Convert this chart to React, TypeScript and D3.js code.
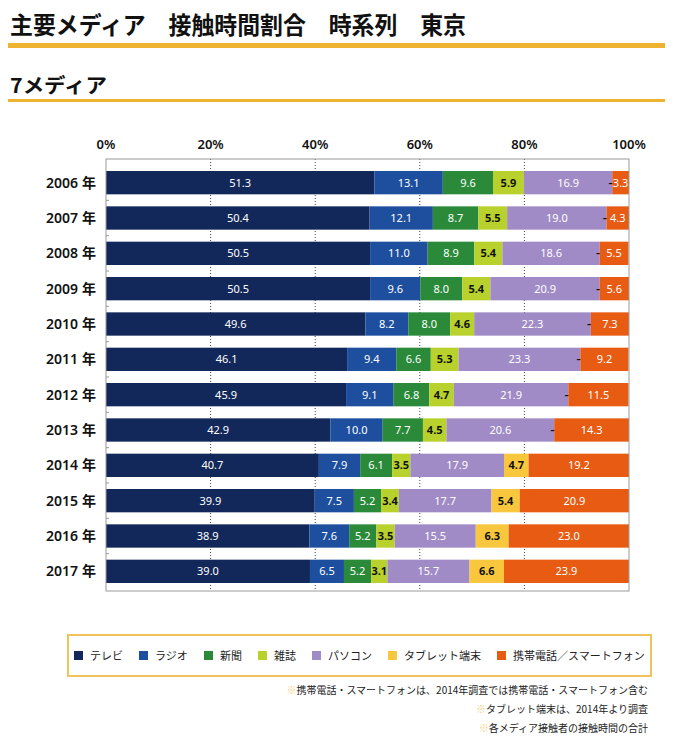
import React from "react";
import * as d3 from "d3";

const years = ["2006", "2007", "2008", "2009", "2010", "2011", "2012", "2013", "2014", "2015", "2016", "2017"];
const seriesNames = ["テレビ", "ラジオ", "新聞", "雑誌", "パソコン", "タブレット端末", "携帯電話／スマートフォン"];
const tv = [51.3, 50.4, 50.5, 50.5, 49.6, 46.1, 45.9, 42.9, 40.7, 39.9, 38.9, 39.0];
const radio = [13.1, 12.1, 11.0, 9.6, 8.2, 9.4, 9.1, 10.0, 7.9, 7.5, 7.6, 6.5];
const newspaper = [9.6, 8.7, 8.9, 8.0, 8.0, 6.6, 6.8, 7.7, 6.1, 5.2, 5.2, 5.2];
const magazine = [5.9, 5.5, 5.4, 5.4, 4.6, 5.3, 4.7, 4.5, 3.5, 3.4, 3.5, 3.1];
const pc = [16.9, 19.0, 18.6, 20.9, 22.3, 23.3, 21.9, 20.6, 17.9, 17.7, 15.5, 15.7];
const tablet: (number | null)[] = [null, null, null, null, null, null, null, null, 4.7, 5.4, 6.3, 6.6];
const mobile = [3.3, 4.3, 5.5, 5.6, 7.3, 9.2, 11.5, 14.3, 19.2, 20.9, 23.0, 23.9];
const xTicks = [0, 20, 40, 60, 80, 100];
const footnotes = [
  "携帯電話・スマートフォンは、2014年調査では携帯電話・スマートフォン含む",
  "タブレット端末は、2014年より調査",
  "各メディア接触者の接触時間の合計",
];

const colors = ["#13285a", "#1d4f9e", "#2a8a3a", "#b8d12c", "#a08bc6", "#f8c73e", "#e75b12"];
const darkText = [false, false, false, true, false, true, false];
const allSeries = [tv, radio, newspaper, magazine, pc, tablet, mobile];

const FONT = "'Noto Sans CJK JP', 'Noto Sans', sans-serif";

function measure(text: string, font: string) {
  const c = document.createElement("canvas").getContext("2d");
  if (!c) return text.length * 11;
  c.font = font;
  return c.measureText(text).width;
}

export default function App() {
  const W = 680, H = 749;
  const left = 106, right = 629, top = 159, bottom = 591;
  const x = d3.scaleLinear().domain([0, 100]).range([left, right]);
  const y = d3.scaleBand<string>().domain(years).range([top, 595]).padding(0.34);

  const rows = years.map((yr, i) => {
    const r: any = { year: yr };
    allSeries.forEach((s, k) => (r["s" + k] = s[i] ?? 0));
    return r;
  });
  const keys = allSeries.map((_, k) => "s" + k);
  const stacked = d3.stack<any>().keys(keys)(rows);

  // legend layout
  const legFont = `11px ${FONT}`;
  const widths = seriesNames.map((n) => measure(n, legFont));
  const sq = 9, gapSq = 7, gapItem = 16;
  const total = widths.reduce((a, b) => a + b, 0) + seriesNames.length * (sq + gapSq) + (seriesNames.length - 1) * gapItem;
  const boxX = 68, boxW = 583;
  let cx = boxX + (boxW - total) / 2;
  const legendPos = widths.map((w) => {
    const p = cx;
    cx += sq + gapSq + w + gapItem;
    return p;
  });

  const step = y.step();

  return (
    <svg width={W} height={H} style={{ display: "block", position: "absolute", left: 0, top: 0 }} fontFamily={FONT}>
      <rect width={W} height={H} fill="#fff" />
      {/* titles */}
      <text x={10} y={34} fontSize={24} fontWeight={700} fill="#111" textLength={456} lengthAdjust="spacingAndGlyphs">
        主要メディア　接触時間割合　時系列　東京
      </text>
      <rect x={8} y={43} width={657} height={5} fill="#eeb330" />
      <text x={10} y={93} fontSize={20} fontWeight={700} fill="#111" textLength={97} lengthAdjust="spacingAndGlyphs">
        7メディア
      </text>
      <rect x={8} y={99} width={657} height={3} fill="#eeb330" />

      {/* x tick labels */}
      {xTicks.map((t) => (
        <text key={t} x={x(t)} y={149} fontSize={13} fontWeight={600} textAnchor="middle" fill="#111" fontFamily="'Noto Sans', sans-serif">
          {t}%
        </text>
      ))}

      {/* grid */}
      {xTicks.filter((t) => t > 0 && t < 100).map((t) => (
        <line key={t} x1={x(t)} x2={x(t)} y1={top} y2={bottom} stroke="#444" strokeWidth={1} strokeDasharray="1,2" />
      ))}
      {/* left small ticks */}
      {years.slice(1).map((yr) => {
        const yy = (y(yr) as number) - (step - y.bandwidth()) / 2;
        return <line key={yr} x1={left} x2={left + 3} y1={yy} y2={yy} stroke="#999" />;
      })}

      {/* bars */}
      {stacked.map((layer, k) => (
        <g key={k}>
          {layer.map((d, i) => {
            const x0 = x(d[0]), x1 = x(d[1]);
            const yy = y(years[i]) as number;
            const raw = allSeries[k][i];
            const label = raw == null ? "–" : raw.toFixed(1);
            return (
              <g key={i}>
                {x1 - x0 > 0 && (
                  <rect x={x0} y={yy} width={Math.min(x1, right) - x0} height={y.bandwidth()} fill={colors[k]} />
                )}
                <text
                  x={(x0 + Math.min(x1, right)) / 2 - (raw == null ? 1 : 0)}
                  y={yy + y.bandwidth() / 2 + 4}
                  fontSize={11}
                  fontWeight={raw == null || darkText[k] ? 700 : 400}
                  textAnchor="middle"
                  fill={raw == null || darkText[k] ? "#111" : "#fff"}
                  fontFamily="'Noto Sans', sans-serif"
                >
                  {label}
                </text>
              </g>
            );
          })}
        </g>
      ))}

      {/* frame */}
      <rect x={left} y={top} width={right - left} height={bottom - top} fill="none" stroke="#9a9a9a" strokeWidth={1} />

      {/* year labels */}
      {years.map((yr) => (
        <text key={yr} x={96} y={(y(yr) as number) + y.bandwidth() / 2 + 5} fontSize={14} fontWeight={600} textAnchor="end" fill="#111">
          <tspan fontFamily="'Noto Sans', sans-serif">{yr}</tspan>
          <tspan dx={4}>年</tspan>
        </text>
      ))}

      {/* legend */}
      <rect x={boxX} y={635} width={boxW} height={41} fill="#fff" stroke="#efc35a" strokeWidth={2} />
      {seriesNames.map((n, k) => (
        <g key={n}>
          <rect x={legendPos[k]} y={651} width={sq} height={sq} fill={colors[k]} />
          <text x={legendPos[k] + sq + gapSq} y={660} fontSize={11} fill="#222">
            {n}
          </text>
        </g>
      ))}

      {/* footnotes */}
      {footnotes.map((f, i) => (
        <text key={i} x={648} y={694 + i * 19} fontSize={10} textAnchor="end" fill="#222">
          <tspan fill="#f2cf7e">※</tspan>
          {f}
        </text>
      ))}
    </svg>
  );
}
